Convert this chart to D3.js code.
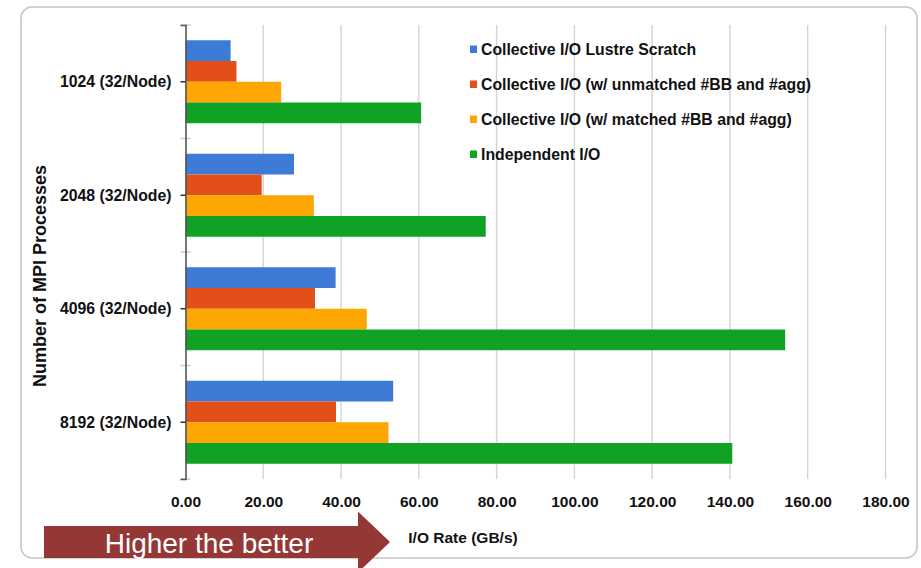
<!DOCTYPE html>
<html>
<head>
<meta charset="utf-8">
<script src="https://cdn.jsdelivr.net/npm/d3@7"></script>
<style>
  html, body { margin: 0; padding: 0; background: #ffffff; }
  svg { display: block; }
  text { font-family: "Liberation Sans", Arial, sans-serif; }
</style>
</head>
<body>
<svg id="chart" width="921" height="568"></svg>
<script>
const categories = ["1024 (32/Node)", "2048 (32/Node)", "4096 (32/Node)", "8192 (32/Node)"];
const seriesNames = [
  "Collective I/O Lustre Scratch",
  "Collective I/O (w/ unmatched #BB and #agg)",
  "Collective I/O (w/ matched #BB and #agg)",
  "Independent I/O"
];
const lustreScratch = [11.6, 27.9, 38.6, 53.4];
const unmatchedBB   = [13.1, 19.6, 33.3, 38.7];
const matchedBB     = [24.6, 33.0, 46.6, 52.2];
const independentIO = [60.6, 77.2, 154.2, 140.6];
const xTicks = [0, 20, 40, 60, 80, 100, 120, 140, 160, 180];
const colors = ["#3e7bd7", "#e34f19", "#fea601", "#0fa225"];
const xTitle = "I/O Rate (GB/s)";
const yTitle = "Number of MPI Processes";
const arrowLabel = "Higher the better";

const seriesValues = [lustreScratch, unmatchedBB, matchedBB, independentIO];

const svg = d3.select("#chart");

// frame
svg.append("rect")
  .attr("x", 21).attr("y", 7).attr("width", 896).attr("height", 551)
  .attr("rx", 11).attr("ry", 11)
  .attr("fill", "#ffffff").attr("stroke", "#c6c6c6").attr("stroke-width", 1.6);

const x = d3.scaleLinear().domain([0, 180]).range([185.5, 885.5]);
const y0 = d3.scaleBand().domain(categories).range([25, 479]).padding(0);
const y1 = d3.scaleBand().domain(seriesNames).range([0, y0.bandwidth()])
  .paddingInner(0).paddingOuter(0.735);

// gridlines
svg.append("g").selectAll("line").data(xTicks.filter(t => t > 0)).join("line")
  .attr("x1", d => x(d)).attr("x2", d => x(d))
  .attr("y1", 25).attr("y2", 479)
  .attr("stroke", "#d4d4d4").attr("stroke-width", 1.4);

// bars
const groups = svg.append("g").selectAll("g").data(categories).join("g")
  .attr("transform", d => `translate(0,${y0(d)})`);
groups.selectAll("rect")
  .data((c, i) => seriesNames.map((s, j) => ({ s, j, v: seriesValues[j][i] })))
  .join("rect")
  .attr("x", x(0))
  .attr("y", d => y1(d.s))
  .attr("width", d => x(d.v) - x(0))
  .attr("height", y1.bandwidth())
  .attr("fill", d => colors[d.j]);

// boundary ticks (light)
const bounds = categories.map(c => y0(c)).concat([y0.range()[1]]);
svg.append("g").selectAll("line").data(bounds).join("line")
  .attr("x1", 180.5).attr("x2", 190.5)
  .attr("y1", d => d).attr("y2", d => d)
  .attr("stroke", "#c8c8c8").attr("stroke-width", 1.4);

// y axis
const yAxis = d3.axisLeft(y0).tickSize(5).tickPadding(8);
const yg = svg.append("g").attr("transform", `translate(${x(0)},0)`).call(yAxis);
yg.select(".domain").attr("stroke", "#555555").attr("stroke-width", 1.6);
yg.selectAll(".tick line").attr("stroke", "#222").attr("stroke-width", 1.4);
yg.selectAll(".tick text")
  .attr("font-family", "'Liberation Sans', Arial, sans-serif")
  .attr("font-size", 15.8).attr("font-weight", "bold").attr("fill", "#111")
  .attr("x", -14).attr("dy", "0.36em");

// x axis
const xAxis = d3.axisBottom(x).tickValues(xTicks).tickFormat(d3.format(".2f")).tickSize(0).tickPadding(0);
const xg = svg.append("g").attr("transform", "translate(0,479)").call(xAxis);
xg.select(".domain").remove();
xg.selectAll(".tick text")
  .attr("font-family", "'Liberation Sans', Arial, sans-serif")
  .attr("font-size", 15.5).attr("font-weight", "bold").attr("fill", "#111")
  .attr("y", 28).attr("dy", 0);

// axis titles
svg.append("text")
  .attr("x", 463).attr("y", 543)
  .attr("text-anchor", "middle")
  .attr("font-size", 15.5).attr("font-weight", "bold").attr("fill", "#111")
  .text(xTitle);

svg.append("text")
  .attr("transform", "translate(46,276) rotate(-90)")
  .attr("text-anchor", "middle")
  .attr("font-size", 18).attr("font-weight", "bold").attr("fill", "#111")
  .text(yTitle);

// legend
const legend = svg.append("g").selectAll("g").data(seriesNames).join("g")
  .attr("transform", (d, i) => `translate(470,${49.5 + i * 35})`);
legend.append("rect")
  .attr("x", 0).attr("y", -4).attr("width", 7).attr("height", 7.5)
  .attr("fill", (d, i) => colors[i]);
legend.append("text")
  .attr("x", 11).attr("y", 0).attr("dy", "0.36em")
  .attr("font-size", 15.8).attr("font-weight", "bold").attr("fill", "#111")
  .text(d => d);

// arrow
const arrow = d3.path();
arrow.moveTo(44, 526);
arrow.lineTo(358, 526);
arrow.lineTo(358, 511.5);
arrow.lineTo(390, 542);
arrow.lineTo(358, 572.5);
arrow.lineTo(358, 558);
arrow.lineTo(44, 558);
arrow.closePath();
svg.append("path").attr("d", arrow.toString()).attr("fill", "#953735");
svg.append("text")
  .attr("x", 209).attr("y", 553)
  .attr("text-anchor", "middle")
  .attr("font-family", "Lato, 'Open Sans', sans-serif")
  .attr("font-size", 28).attr("fill", "#ffffff")
  .text(arrowLabel);
</script>
</body>
</html>
